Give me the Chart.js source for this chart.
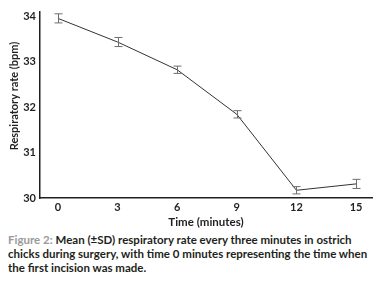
<!DOCTYPE html>
<html><head><meta charset="utf-8">
<script src="https://cdn.jsdelivr.net/npm/chart.js@4.4.1/dist/chart.umd.min.js"></script>
<style>
html,body{margin:0;padding:0;background:#fff;width:378px;height:284px;overflow:hidden;}
#wrap{position:absolute;left:0;top:0;width:378px;height:232px;}
#cap{position:absolute;left:8px;top:233px;width:368px;font-family:Lato,sans-serif;font-weight:700;font-size:11.5px;line-height:14px;color:#231f20;}
#cap .fig{color:#9a9a9a;}
</style></head><body>
<div id="wrap"><canvas id="c" width="378" height="232"></canvas></div>
<div id="cap"><span class="fig">Figure 2:</span> Mean (±SD) respiratory rate every three minutes in ostrich chicks during surgery, with time 0 minutes representing the time when the first incision was made.</div>
<script>
const times = [0, 3, 6, 9, 12, 15];
const meanRate = [33.95, 33.43, 32.82, 31.84, 30.17, 30.31];
const sdRate = [0.1, 0.1, 0.08, 0.08, 0.08, 0.1];
const xTicks = [0, 3, 6, 9, 12, 15];
const yTicks = [30, 31, 32, 33, 34];

const errPlugin = {
  id: 'errbars',
  afterDatasetsDraw(chart) {
    const ctx = chart.ctx, xs = chart.scales.x, ys = chart.scales.y;
    ctx.save();
    ctx.strokeStyle = '#6e6e6e';
    ctx.lineWidth = 1;
    times.forEach((t, i) => {
      const px = Math.round(xs.getPixelForValue(t)) + 0.5;
      const top = ys.getPixelForValue(meanRate[i] + sdRate[i]);
      const bot = ys.getPixelForValue(meanRate[i] - sdRate[i]);
      ctx.beginPath();
      ctx.moveTo(px, top); ctx.lineTo(px, bot);
      ctx.moveTo(px - 4, top); ctx.lineTo(px + 4, top);
      ctx.moveTo(px - 4, bot); ctx.lineTo(px + 4, bot);
      ctx.stroke();
    });
    ctx.restore();
  }
};
const yTitlePlugin = {
  id: 'ytitle',
  afterDraw(chart) {
    const ctx = chart.ctx;
    ctx.save();
    ctx.translate(14, 96);
    ctx.rotate(-Math.PI / 2);
    ctx.font = '700 11px Lato, sans-serif';
    ctx.fillStyle = '#231f20';
    ctx.textAlign = 'center';
    ctx.textBaseline = 'middle';
    ctx.fillText('Respiratory rate (bpm)', 0, 0);
    ctx.restore();
  }
};

new Chart(document.getElementById('c'), {
  type: 'line',
  data: {
    datasets: [{
      data: times.map((t, i) => ({x: t, y: meanRate[i]})),
      borderColor: '#333',
      borderWidth: 1,
      pointRadius: 0,
      tension: 0,
      fill: false
    }]
  },
  options: {
    responsive: false,
    animation: false,
    events: [],
    layout: {padding: {left: 0, right: 6, top: 12, bottom: 0}},
    plugins: {legend: {display: false}, tooltip: {enabled: false}},
    scales: {
      x: {
        type: 'linear', min: -0.9, max: 15.8,
        afterBuildTicks: s => { s.ticks = xTicks.map(v => ({value: v})); },
        afterFit: s => { s.height = 34; },
        grid: {display: false, drawTicks: false},
        border: {color: '#231f20', width: 1.5},
        ticks: {color: '#231f20', font: {family: 'Lato', weight: '700', size: 11}, padding: 3, maxRotation: 0},
        title: {display: true, text: 'Time (minutes)', color: '#231f20', font: {family: 'Lato', weight: '700', size: 11.5}, padding: {top: 0, bottom: 3}}
      },
      y: {
        min: 30, max: 34.09,
        afterBuildTicks: s => { s.ticks = yTicks.map(v => ({value: v})); },
        afterFit: s => { s.width = 40; },
        grid: {display: false, drawOnChartArea: false, drawTicks: true, tickLength: 3, tickColor: '#231f20'},
        border: {color: '#231f20', width: 1.5},
        ticks: {color: '#231f20', font: {family: 'Lato', weight: '700', size: 11}, padding: 1}
      }
    }
  },
  plugins: [errPlugin, yTitlePlugin]
});
</script>
</body></html>
